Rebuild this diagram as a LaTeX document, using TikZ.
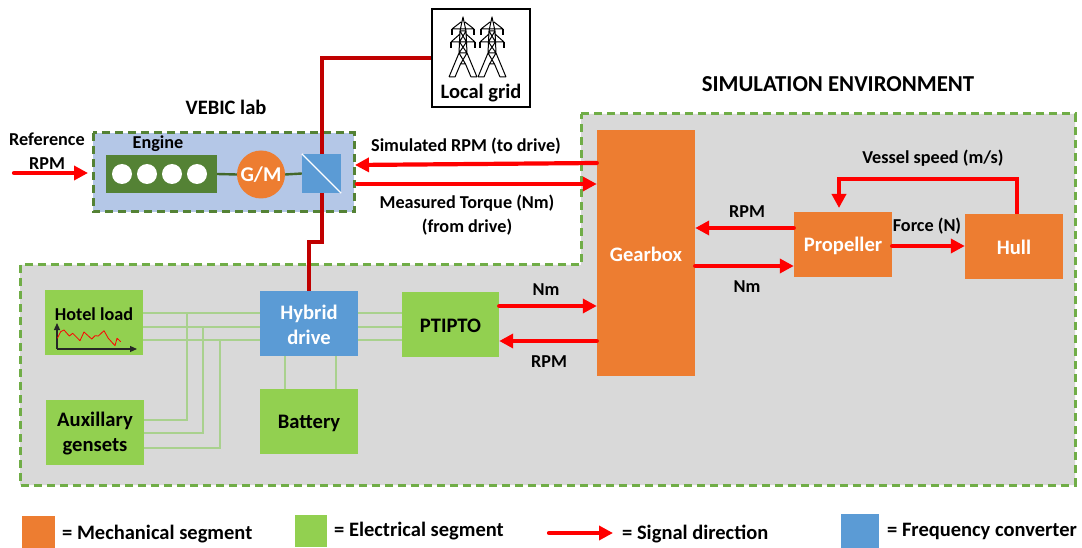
\documentclass[tikz,border=0pt]{standalone}
\usepackage{fontspec}
\setmainfont{Carlito}
\usetikzlibrary{arrows.meta}
\definecolor{mech}{HTML}{ED7D31}
\definecolor{elec}{HTML}{92D050}
\definecolor{conv}{HTML}{5B9BD5}
\definecolor{dash}{HTML}{70AD47}
\definecolor{dashdark}{HTML}{548235}
\definecolor{simbg}{HTML}{D9D9D9}
\definecolor{labbg}{HTML}{B4C7E7}
\definecolor{elline}{HTML}{A9D18E}
\definecolor{gridline}{HTML}{C00000}
\tikzset{
  x=1pt,y=-1pt,
  txt/.style={font=\fontsize{18.2}{24}\selectfont\bfseries,text=black,align=center,inner sep=0pt},
  bigtxt/.style={txt,font=\fontsize{20.5}{24}\selectfont\bfseries},
  mechbox/.style={fill=mech,inner sep=0pt,text=white,font=\fontsize{20.6}{25}\selectfont\bfseries,align=center},
  elecbox/.style={fill=elec,inner sep=0pt,text=black,font=\fontsize{20.6}{25}\selectfont\bfseries,align=center},
  convbox/.style={fill=conv,inner sep=0pt,text=white,font=\fontsize{20.6}{25}\selectfont\bfseries,align=center},
  sig/.style={red,line width=4.2pt,line cap=round,-{Triangle[length=14pt,width=14pt]}},
  elwire/.style={elline,line width=2.6pt},
  grid wire/.style={gridline,line width=3.4pt},
  zone/.style={line width=3pt,dash pattern=on 8pt off 5pt},
  pics/tower/.style={code={
    \draw[black,line width=1pt,line join=round]
      (-14,60) -- (-4,36) -- (-3,14) -- (0,0) -- (3,14) -- (4,36) -- (14,60)
      (-8,60) -- (-2.5,47) -- (2.5,47) -- (8,60)
      (-4,36) -- (4,36) (-3,14) -- (3,14) (-3.5,25) -- (3.5,25) (-2.5,47) -- (2.5,47)
      (-4,36) -- (2.5,47) (4,36) -- (-2.5,47)
      (-3,14) -- (3.5,25) (3,14) -- (-3.5,25)
      (-3.5,25) -- (4,36) (3.5,25) -- (-4,36)
      (-11,12) -- (11,12) (-2,5) -- (-11,12) (2,5) -- (11,12)
      (-12,25) -- (12,25) (-3,17) -- (-12,25) (3,17) -- (12,25)
      (-14,60) -- (-8,60) (14,60) -- (8,60);
    \foreach \a in {-11,11}{
      \draw[black,line width=2.4pt] (\a,12) -- (\a,18);
    }
    \foreach \a in {-12,12}{
      \draw[black,line width=2.4pt] (\a,25) -- (\a,31);
    }
  }}
}
\begin{document}
\begin{tikzpicture}
\useasboundingbox (0,0) rectangle (1082,548);
\fill[white] (0,0) rectangle (1082,548);

% zones
\draw[zone,draw=dash,fill=simbg] (581,114) -- (1075,114) -- (1075,485) -- (20,485) -- (20,265) -- (581,265) -- cycle;
\draw[zone,draw=dashdark,fill=labbg] (93,133) rectangle (354,212);

% coordinates for wires
\coordinate (gridbend1) at (322,58);
\coordinate (drivebend1) at (322,242);
\coordinate (drivebend2) at (309,242);

% boxes
\node[draw=black,line width=1.6pt,fill=white,minimum width=98pt,minimum height=98pt,inner sep=0pt] (grid) at (481,58) {};
\node[fill=dashdark,minimum width=111pt,minimum height=38pt,inner sep=0pt] (engine) at (161.5,174) {};
\foreach \cx in {122,147,172,197}{\fill[white] (\cx,174) circle (10);}
\node[circle,fill=mech,minimum size=48pt,inner sep=0pt,text=white,font=\fontsize{21}{24}\selectfont\bfseries] (gm) at (261,174.5) {G/M};
\node[fill=conv,minimum width=39pt,minimum height=39pt,inner sep=0pt] (conv) at (321.5,173.5) {};
\draw[white,line width=1.2pt] (conv.north west) -- (conv.south east);

\node[mechbox,minimum width=98pt,minimum height=246pt] (gearbox) at (646,253) {};
\node[mechbox,minimum width=98pt,minimum height=65pt] (propeller) at (843,244.5) {};
\node[mechbox,minimum width=98pt,minimum height=65pt] (hull) at (1014,246.5) {};
\node[elecbox,minimum width=97pt,minimum height=65pt] (ptipto) at (450.5,324.5) {};
\node[convbox,minimum width=98pt,minimum height=65pt] (drive) at (309,323.5) {};
\node[elecbox,minimum width=98pt,minimum height=65pt] (battery) at (309,421.5) {};
\node[elecbox,minimum width=98pt,minimum height=65pt] (hotel) at (94,322.5) {};
\node[elecbox,minimum width=98pt,minimum height=65pt] (aux) at (95,432.5) {};

\node[mechbox,fill=none] (gearboxt) at (646,254) {Gearbox};
\node[mechbox,fill=none] (propellert) at (843,245.5) {Propeller};
\node[mechbox,fill=none] (hullt) at (1014,247.5) {Hull};
\node[elecbox,fill=none] (ptiptot) at (450.5,325.5) {PTIPTO};
\node[convbox,fill=none] (drivet) at (309,324.5) {Hybrid\\drive};
\node[elecbox,fill=none] (batteryt) at (309,423) {Battery};
\node[elecbox,fill=none] (auxt) at (95,434) {Auxillary\\gensets};

% dark red mains wires
\draw[grid wire] (grid.west |- 0,58) -- (gridbend1) -- (conv.north -| gridbend1);
\draw[grid wire] (conv.south -| gridbend1) -- (drivebend1) -- (drivebend2) -- (drivebend2 |- drive.north);

% engine shaft
\draw[dashdark!80!black,line width=2.4pt] (engine.east) -- (gm.west);
\draw[dashdark!80!black,line width=2.4pt] (gm.east) -- (conv.west);

% electric wires
\foreach \yy in {313,327,340}{
  \draw[elwire] (hotel.east |- 0,\yy) -- (drive.west |- 0,\yy);
  \draw[elwire] (drive.east |- 0,\yy) -- (ptipto.west |- 0,\yy);
}
\draw[elwire] (aux.east |- 0,420) -- (187,420) -- (187,313);
\draw[elwire] (aux.east |- 0,433) -- (203,433) -- (203,327);
\draw[elwire] (aux.east |- 0,448) -- (220,448) -- (220,340);
\draw[elwire] (285,356) -- (285,389);
\draw[elwire] (336,356) -- (336,389);

% hotel chart
\node[txt] (hotellabel) at (94,314) {Hotel load};
\draw[black!85,line width=1.2pt,-{Triangle[length=7pt,width=6pt]}] (57,349) -- (57,323);
\draw[black!85,line width=1.2pt,-{Triangle[length=7pt,width=6pt]}] (57,349) -- (137,349);
\draw[red,line width=.8pt,line join=round] (57.3,338.3) -- (60.7,331.7) -- (64,330) -- (69.3,336) -- (72.7,333.3) -- (80,340.7) -- (84,332) -- (91.7,339) -- (95,335.7) -- (98.3,336) -- (104,330.7) -- (108.3,338.3) -- (115,345.7) -- (117,338.3) -- (120.7,341.7);

% towers
\pic at (463,17) {tower};
\pic at (492,17) {tower};
\node[bigtxt] (gridlabel) at (481,93) {Local grid};

% signal arrows
\coordinate (refstart) at (14,173);
\coordinate (refend) at (88,173);
\draw[sig] (refstart) -- (refend);
\draw[sig] (gearbox.west |- 0,163) -- (355,165);
\draw[sig] (357,184) -- (gearbox.west |- 0,184);
\draw[sig] (propeller.west |- 0,228) -- (gearbox.east |- 0,228);
\draw[sig] (gearbox.east |- 0,266) -- (propeller.west |- 0,266);
\draw[sig] (propeller.east |- 0,246) -- (hull.west |- 0,246);
\coordinate (v1) at (1017,179);
\coordinate (v2) at (839,179);
\draw[sig,line cap=butt] (1017,214) -- (v1) -- (v2) -- (839,208);
\draw[sig] (ptipto.east |- 0,306) -- (gearbox.west |- 0,306);
\draw[sig] (gearbox.west |- 0,341) -- (ptipto.east |- 0,341);

% labels
\node[txt] (reflabel) at (47,151.5) {Reference\\RPM};
\node[txt] (enginelabel) at (158,144) {Engine};
\node[bigtxt] (lablabel) at (226,107) {VEBIC lab};
\node[txt,font=\fontsize{22.8}{26}\selectfont\bfseries] (simlabel) at (838,84) {SIMULATION ENVIRONMENT};
\node[txt] (simrpm) at (466,146) {Simulated RPM (to drive)};
\node[txt] (meastq) at (467,215) {Measured Torque (Nm)\\(from drive)};
\node[txt] (vessel) at (933,158) {Vessel speed (m/s)};
\node[txt] (rpm1) at (747,212) {RPM};
\node[txt] (nm1) at (747,287) {Nm};
\node[txt] (force) at (927,226) {Force (N)};
\node[txt] (nm2) at (546,290) {Nm};
\node[txt] (rpm2) at (549,362) {RPM};

% legend
\fill[mech] (22,516) rectangle (55,548);
\node[bigtxt,anchor=west] (l1) at (62,534) {= Mechanical segment};
\fill[elec] (295,515) rectangle (327,547);
\node[bigtxt,anchor=west] (l2) at (334,531) {= Electrical segment};
\coordinate (legs) at (549,533);
\coordinate (lege) at (613,533);
\draw[sig] (legs) -- (lege);
\node[bigtxt,anchor=west] (l3) at (622,534) {= Signal direction};
\fill[conv] (841,514) rectangle (879,548);
\node[bigtxt,anchor=west] (l4) at (887,531) {= Frequency converter};
\end{tikzpicture}
\end{document}
